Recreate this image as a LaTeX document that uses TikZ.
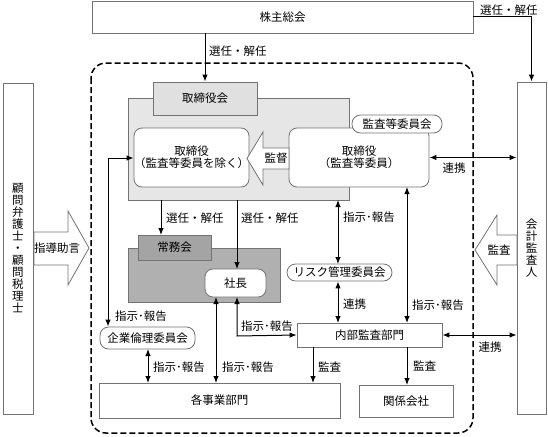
\documentclass[tikz,border=0pt]{standalone}
\usepackage{fontspec}
\setmainfont{Noto Sans CJK JP}
\usetikzlibrary{arrows.meta}
\definecolor{edge}{RGB}{115,115,115}
\definecolor{lightfill}{RGB}{230,230,230}
\definecolor{tabfill}{RGB}{224,224,224}
\definecolor{darkfill}{RGB}{176,176,176}
\definecolor{darktab}{RGB}{164,164,164}
\begin{document}
\begin{tikzpicture}[x=1pt,y=-1pt,
  font=\fontsize{11.5}{12}\selectfont,
  plainbox/.style={draw=edge, line width=0.8pt, fill=white, inner sep=0pt, align=center},
  roundbox/.style={plainbox, rounded corners=8pt},
  pillbox/.style={plainbox, rounded corners=8.5pt},
  conn/.style={line width=1pt, -{Latex[length=7pt,width=5.5pt]}},
  dconn/.style={line width=1pt, {Latex[length=7pt,width=5.5pt]}-{Latex[length=7pt,width=5.5pt]}},
  lbl/.style={inner sep=0pt, anchor=west},
  bigarrow/.style={draw=edge, line width=0.8pt, fill=white}
]
\useasboundingbox (0,0) rectangle (548,436);

% dashed company border
\draw[line width=1.5pt, dash pattern=on 6pt off 3pt, rounded corners=15pt] (91,63) rectangle (473,433);

% outer boxes
\node[plainbox, minimum width=381pt, minimum height=32pt] (top) at (282.5,17) {株主総会};
\node[plainbox, minimum width=30pt, minimum height=331pt] (left) at (18,248.5) {顧\\問\\弁\\護\\士\\・\\顧\\問\\税\\理\\士};
\node[plainbox, minimum width=29pt, minimum height=332pt] (right) at (531.5,248) {会\\計\\監\\査\\人};

% board
\node[plainbox, fill=lightfill, minimum width=221pt, minimum height=102pt] (board) at (238.5,149) {};
\node[plainbox, fill=tabfill, minimum width=104pt, minimum height=33pt] (boardtab) at (205,98.5) {取締役会};
\node[roundbox, minimum width=111pt, minimum height=59pt] (dir) at (191.5,157.5) {取締役\\（監査等委員を除く）};
\node[roundbox, minimum width=140pt, minimum height=59pt] (auddir) at (359,157.5) {取締役\\（監査等委員）};
\node[pillbox, minimum width=90pt, minimum height=18pt] (audcom) at (397,124) {監査等委員会};

% supervision arrow
\draw[bigarrow] (247,158.5) -- (263,132) -- (263,148) -- (289,148) -- (289,169) -- (263,169) -- (263,185) -- cycle;
\node (kantoku) at (276,158.5) {監督};

% executive
\node[plainbox, fill=darkfill, minimum width=152pt, minimum height=54pt] (exec) at (204,275) {};
\node[plainbox, fill=darktab, minimum width=73pt, minimum height=25pt] (exectab) at (174.5,247.5) {常務会};
\node[roundbox, minimum width=61pt, minimum height=28pt] (pres) at (235.5,283) {社長};

% committees and departments
\node[pillbox, minimum width=105pt, minimum height=17pt] (risk) at (339.5,272.5) {リスク管理委員会};
\node[plainbox, minimum width=145pt, minimum height=24pt] (internal) at (369.5,335) {内部監査部門};
\node[pillbox, minimum width=95pt, minimum height=22pt] (ethics) at (147.5,338) {企業倫理委員会};
\node[plainbox, minimum width=241pt, minimum height=35pt] (biz) at (219.5,400.5) {各事業部門};
\node[plainbox, minimum width=94pt, minimum height=32pt] (affil) at (406,401) {関係会社};

% side big arrows
\draw[bigarrow] (89,248) -- (68,211) -- (68,232) -- (34,232) -- (34,265) -- (68,265) -- (68,285) -- cycle;
\node (advice) at (57,248.5) {指導助言};
\draw[bigarrow] (475,250) -- (497,215) -- (497,235) -- (517,235) -- (517,265) -- (497,265) -- (497,285) -- cycle;
\node (audit) at (499,250) {監査};

% connectors
\draw[conn] (top.south -| boardtab.north) -- (boardtab.north);
\node[lbl] (l1) at (209,51) {選任・解任};
\coordinate (rc) at (right.north |- top.east);
\draw[conn] (top.east) -- (rc) -- (right.north);
\node[lbl] (l2) at (480,10) {選任・解任};

\draw[dconn] (auddir.east) -- (auddir.east -| right.west);
\node (l3) at (454,168) {連携};

\coordinate (lc) at (108,158);
\draw[dconn] (dir.west |- lc) -- (lc) -- (lc |- ethics.north);
\node (l4) at (141,316) {指示･報告};

\draw[conn] (161,200) -- (161,235);
\node[lbl] (l5) at (166,218) {選任・解任};
\draw[conn] (237,200) -- (237,269);
\node[lbl] (l6) at (241,218) {選任・解任};

\draw[dconn] (338,200) -- (338,264);
\node[lbl] (l7) at (343,217) {指示･報告};
\draw[dconn] (risk.south) ++(-1.5,0) -- (338,323);
\node[lbl] (l8) at (343,304) {連携};
\draw[dconn] (407,187) -- (407,323);
\node[lbl] (l9) at (412,305) {指示･報告};
\draw[dconn] (internal.east) -- (internal.east -| right.west);
\node (l10) at (490,347) {連携};

\coordinate (pc) at (237,336);
\draw[dconn] (237,297) -- (pc) -- (internal.west);
\node[lbl] (l11) at (241,326) {指示･報告};
\draw[dconn] (216,297) -- (216,383);
\node[lbl] (l12) at (222,367) {指示･報告};
\draw[dconn] (148,349) -- (148,383);
\node[lbl] (l13) at (153,367) {指示･報告};
\draw[conn] (313,347) -- (313,383);
\node[lbl] (l14) at (318,367) {監査};
\draw[conn] (407,347) -- (407,385);
\node[lbl] (l15) at (413,366) {監査};
\end{tikzpicture}
\end{document}
